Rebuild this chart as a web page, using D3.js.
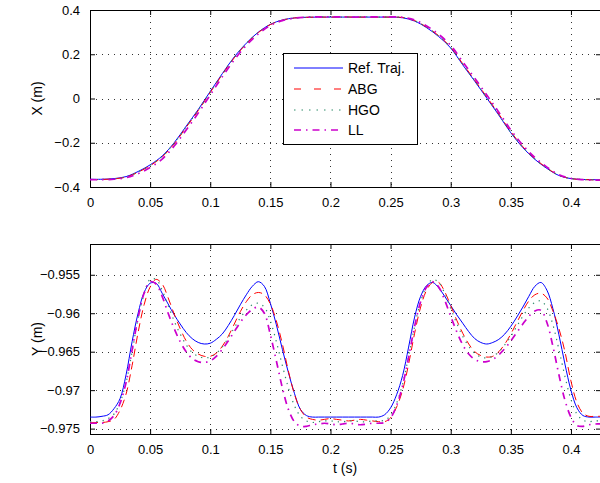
<!DOCTYPE html>
<html>
<head>
<meta charset="utf-8">
<script src="https://d3js.org/d3.v7.min.js"></script>
<style>
  body { margin: 0; background: #fff; }
  svg text { font-family: "Liberation Sans", Arial, sans-serif; }
</style>
</head>
<body>
<div id="chart"></div>
<script>

// time samples of the two panels
var tX = [0,0.01,0.02,0.03,0.04,0.05,0.06,0.07,0.08,0.09,
          0.10,0.11,0.12,0.13,0.14,0.15,0.16,0.17,0.18,0.19,
          0.20,0.21,0.22,0.23,0.24,0.25,0.26,0.27,0.28,0.29,
          0.30,0.31,0.32,0.33,0.34,0.35,0.36,0.37,0.38,0.39,
          0.40,0.41,0.42,0.425];

var refX = [-0.365,-0.365,-0.362,-0.353,-0.330,-0.300,-0.260,-0.200,-0.125,-0.050,
            0.032,0.112,0.188,0.250,0.300,0.335,0.355,0.364,0.367,0.368,
            0.368,0.368,0.368,0.368,0.368,0.368,0.365,0.350,0.320,0.280,
            0.228,0.152,0.078,0.002,-0.075,-0.155,-0.222,-0.275,-0.316,-0.348,
            -0.362,-0.366,-0.367,-0.367];
var abgX = [-0.366,-0.366,-0.363,-0.355,-0.333,-0.304,-0.264,-0.205,-0.130,-0.055,
            0.027,0.108,0.184,0.247,0.298,0.334,0.354,0.364,0.367,0.368,
            0.368,0.369,0.368,0.368,0.368,0.368,0.366,0.352,0.323,0.284,
            0.232,0.157,0.083,0.007,-0.070,-0.150,-0.218,-0.272,-0.314,-0.347,
            -0.362,-0.366,-0.368,-0.368];
var hgoX = [-0.366,-0.366,-0.363,-0.354,-0.332,-0.302,-0.262,-0.203,-0.128,-0.053,
            0.029,0.110,0.186,0.248,0.299,0.334,0.355,0.364,0.367,0.368,
            0.369,0.368,0.368,0.369,0.368,0.368,0.366,0.351,0.322,0.282,
            0.230,0.155,0.081,0.005,-0.072,-0.152,-0.220,-0.273,-0.315,-0.347,
            -0.362,-0.366,-0.367,-0.368];
var llX  = [-0.367,-0.367,-0.365,-0.358,-0.340,-0.312,-0.274,-0.215,-0.142,-0.066,
            0.016,0.098,0.175,0.240,0.292,0.330,0.352,0.363,0.367,0.369,
            0.369,0.369,0.368,0.369,0.369,0.369,0.367,0.355,0.328,0.290,
            0.240,0.166,0.092,0.016,-0.062,-0.142,-0.211,-0.266,-0.310,-0.344,
            -0.361,-0.367,-0.369,-0.369];

var tY = [0,0.005,0.01,0.015,0.02,0.025,0.03,0.035,0.04,0.045,
          0.05,0.055,0.06,0.065,0.07,0.075,0.08,0.085,0.09,0.095,
          0.10,0.105,0.11,0.115,0.12,0.125,0.13,0.135,0.14,0.145,
          0.15,0.155,0.16,0.165,0.17,0.175,0.18,0.185,0.19,0.195,
          0.20,0.205,0.21,0.215,0.22,0.225,0.23,0.235,0.24,0.245,
          0.25,0.255,0.26,0.265,0.27,0.275,0.28,0.285,0.29,0.295,
          0.30,0.305,0.31,0.315,0.32,0.325,0.33,0.335,0.34,0.345,
          0.35,0.355,0.36,0.365,0.37,0.375,0.38,0.385,0.39,0.395,
          0.40,0.405,0.41,0.415,0.42,0.425];

var refY = [-0.9735,-0.9735,-0.9734,-0.9732,-0.9724,-0.9711,-0.9680,-0.9637,-0.9600,-0.9573,
            -0.9561,-0.9561,-0.9574,-0.9588,-0.9602,-0.9614,-0.9625,-0.9633,-0.9638,-0.9640,
            -0.9639,-0.9634,-0.9627,-0.9616,-0.9603,-0.9589,-0.9576,-0.9565,-0.9559,-0.9565,
            -0.9587,-0.9615,-0.9647,-0.9677,-0.9704,-0.9725,-0.9733,-0.9735,-0.9735,-0.9735,
            -0.9735,-0.9735,-0.9735,-0.9735,-0.9735,-0.9735,-0.9735,-0.9735,-0.9735,-0.9732,
            -0.9723,-0.9706,-0.9681,-0.9644,-0.9605,-0.9578,-0.9564,-0.9560,-0.9567,-0.9578,
            -0.9590,-0.9602,-0.9613,-0.9624,-0.9633,-0.9638,-0.9640,-0.9638,-0.9634,-0.9627,
            -0.9617,-0.9605,-0.9592,-0.9578,-0.9565,-0.9560,-0.9570,-0.9594,-0.9628,-0.9666,
            -0.9700,-0.9723,-0.9733,-0.9735,-0.9735,-0.9735];
var abgY = [-0.9742,-0.9742,-0.9742,-0.9741,-0.9738,-0.9726,-0.9705,-0.9668,-0.9625,-0.9589,
            -0.9566,-0.9556,-0.9562,-0.9580,-0.9601,-0.9620,-0.9636,-0.9647,-0.9653,-0.9656,
            -0.9656,-0.9652,-0.9643,-0.9630,-0.9614,-0.9598,-0.9585,-0.9576,-0.9573,-0.9576,
            -0.9588,-0.9610,-0.9640,-0.9675,-0.9705,-0.9725,-0.9735,-0.9738,-0.9739,-0.9738,
            -0.9737,-0.9738,-0.9739,-0.9740,-0.9739,-0.9738,-0.9739,-0.9740,-0.9741,-0.9741,
            -0.9736,-0.9722,-0.9700,-0.9666,-0.9626,-0.9592,-0.9570,-0.9560,-0.9560,-0.9572,
            -0.9590,-0.9609,-0.9626,-0.9640,-0.9650,-0.9655,-0.9657,-0.9656,-0.9650,-0.9640,
            -0.9627,-0.9612,-0.9597,-0.9584,-0.9576,-0.9574,-0.9580,-0.9597,-0.9620,-0.9650,
            -0.9688,-0.9716,-0.9730,-0.9734,-0.9734,-0.9734];
var hgoY = [-0.9741,-0.9741,-0.9740,-0.9737,-0.9731,-0.9716,-0.9690,-0.9650,-0.9607,-0.9575,
            -0.9556,-0.9556,-0.9570,-0.9590,-0.9610,-0.9627,-0.9641,-0.9651,-0.9656,-0.9658,
            -0.9657,-0.9652,-0.9644,-0.9632,-0.9619,-0.9606,-0.9596,-0.9589,-0.9587,-0.9592,
            -0.9610,-0.9637,-0.9668,-0.9697,-0.9720,-0.9734,-0.9740,-0.9742,-0.9741,-0.9740,
            -0.9740,-0.9741,-0.9741,-0.9740,-0.9740,-0.9741,-0.9741,-0.9740,-0.9740,-0.9739,
            -0.9733,-0.9717,-0.9692,-0.9656,-0.9617,-0.9585,-0.9565,-0.9556,-0.9560,-0.9574,
            -0.9594,-0.9613,-0.9630,-0.9643,-0.9652,-0.9657,-0.9658,-0.9656,-0.9650,-0.9641,
            -0.9630,-0.9617,-0.9604,-0.9593,-0.9586,-0.9584,-0.9593,-0.9615,-0.9647,-0.9682,
            -0.9712,-0.9731,-0.9739,-0.9741,-0.9740,-0.9740];
var llY  = [-0.9743,-0.9743,-0.9743,-0.9740,-0.9733,-0.9717,-0.9690,-0.9648,-0.9606,-0.9574,
            -0.9559,-0.9562,-0.9578,-0.9600,-0.9620,-0.9637,-0.9650,-0.9659,-0.9663,-0.9664,
            -0.9662,-0.9656,-0.9647,-0.9636,-0.9624,-0.9612,-0.9602,-0.9595,-0.9592,-0.9600,
            -0.9628,-0.9662,-0.9697,-0.9725,-0.9741,-0.9747,-0.9747,-0.9745,-0.9744,-0.9743,
            -0.9744,-0.9745,-0.9744,-0.9743,-0.9744,-0.9745,-0.9744,-0.9743,-0.9743,-0.9742,
            -0.9736,-0.9720,-0.9694,-0.9657,-0.9617,-0.9585,-0.9566,-0.9559,-0.9566,-0.9583,
            -0.9604,-0.9624,-0.9641,-0.9653,-0.9660,-0.9663,-0.9663,-0.9660,-0.9654,-0.9646,
            -0.9636,-0.9625,-0.9614,-0.9604,-0.9597,-0.9596,-0.9612,-0.9643,-0.9680,-0.9713,
            -0.9735,-0.9746,-0.9747,-0.9745,-0.9744,-0.9744];

var xTicks = [0,0.05,0.1,0.15,0.2,0.25,0.3,0.35,0.4];
var topTicks = [-0.4,-0.2,0,0.2,0.4];
var botTicks = [-0.975,-0.97,-0.965,-0.96,-0.955];

var names = ["Ref. Traj.","ABG","HGO","LL"];

var styles = [
    {color: "#0000ff", dash: null, legDash: null, width: 1},
    {color: "#ff0000", dash: "8,5", legDash: "7,13", width: 1},
    {color: "#2e8b6a", dash: "1.3,5", legDash: "1.5,6", width: 1.2},
    {color: "#cc00cc", dash: "7,5,1.5,5", legDash: "7,5,1.5,5", width: 1.7}
];

var W = 600, H = 483;
var left = 90, right = 601;

var svg = d3.select("#chart").append("svg")
    .attr("width", W)
    .attr("height", H);

function panel(id, top, bottom, yDomain, yTicks, fmt, t, series, ylabel) {
    var x = d3.scaleLinear().domain([0, 0.425]).range([left, right]);
    var y = d3.scaleLinear().domain(yDomain).range([bottom, top]);

    var g = svg.append("g");

    g.append("clipPath").attr("id", id)
        .append("rect")
        .attr("x", left).attr("y", top)
        .attr("width", right - left).attr("height", bottom - top);

    // dotted grid
    g.selectAll(".vg").data(xTicks).enter().append("line")
        .attr("x1", function(d) { return Math.round(x(d)) + 0.5; })
        .attr("x2", function(d) { return Math.round(x(d)) + 0.5; })
        .attr("y1", top).attr("y2", bottom)
        .attr("stroke", "#333").attr("stroke-width", 1)
        .attr("stroke-dasharray", "1,5");
    g.selectAll(".hg").data(yTicks).enter().append("line")
        .attr("y1", function(d) { return Math.round(y(d)) + 0.5; })
        .attr("y2", function(d) { return Math.round(y(d)) + 0.5; })
        .attr("x1", left).attr("x2", right)
        .attr("stroke", "#333").attr("stroke-width", 1)
        .attr("stroke-dasharray", "1,5");

    // axes, ticks pointing inward like matlab
    var xb = g.append("g")
        .attr("transform", "translate(0," + bottom + ")")
        .call(d3.axisBottom(x).tickValues(xTicks).tickSizeInner(-5).tickSizeOuter(0)
              .tickPadding(11).tickFormat(d3.format("")));
    var xt = g.append("g")
        .attr("transform", "translate(0," + top + ")")
        .call(d3.axisTop(x).tickValues(xTicks).tickSizeInner(-5).tickSizeOuter(0)
              .tickFormat(""));
    var yl = g.append("g")
        .attr("transform", "translate(" + left + ",0)")
        .call(d3.axisLeft(y).tickValues(yTicks).tickSizeInner(-5).tickSizeOuter(0)
              .tickPadding(10).tickFormat(fmt));
    var yr = g.append("g")
        .attr("transform", "translate(" + right + ",0)")
        .call(d3.axisRight(y).tickValues(yTicks).tickSizeInner(-5).tickSizeOuter(0)
              .tickFormat(""));

    [xb, xt, yl, yr].forEach(function(a) {
        a.select(".domain").remove();
        a.selectAll("text").attr("font-size", "13px").attr("fill", "#000")
            .style("font-family", "'Liberation Sans', Arial, sans-serif");
        a.selectAll("line").attr("stroke", "#000");
    });

    g.append("rect")
        .attr("x", left + 0.5).attr("y", top + 0.5)
        .attr("width", right - left).attr("height", bottom - top)
        .attr("fill", "none").attr("stroke", "#000").attr("stroke-width", 1);

    var line = d3.line()
        .x(function(d) { return x(d[0]); })
        .y(function(d) { return y(d[1]); })
        .curve(d3.curveCatmullRom);

    series.forEach(function(s, i) {
        g.append("path")
            .datum(t.map(function(tt, j) { return [tt, s[j]]; }))
            .attr("clip-path", "url(#" + id + ")")
            .attr("d", line)
            .attr("fill", "none")
            .attr("stroke", styles[i].color)
            .attr("stroke-width", styles[i].width)
            .attr("stroke-dasharray", styles[i].dash);
    });

    g.append("text")
        .attr("transform", "translate(42," + ((top + bottom) / 2) + ") rotate(-90)")
        .attr("text-anchor", "middle")
        .attr("font-size", "14px")
        .text(ylabel);

    return {x: x, y: y};
}

var p1 = panel("clipTop", 10, 187, [-0.4, 0.4], topTicks,
    function(d) { return d3.format("")(d); }, tX, [refX, abgX, hgoX, llX], "X (m)");
var p2 = panel("clipBot", 244, 434, [-0.9757, -0.9510], botTicks,
    d3.format(".3~f"), tY, [refY, abgY, hgoY, llY], "Y (m)");

svg.append("text")
    .attr("x", 345).attr("y", 473)
    .attr("text-anchor", "middle")
    .attr("font-size", "14px")
    .text("t (s)");

// legend
var leg = svg.append("g");
leg.append("rect")
    .attr("x", 283.5).attr("y", 53.5)
    .attr("width", 134).attr("height", 91)
    .attr("fill", "#fff").attr("stroke", "#000").attr("stroke-width", 1);

var rowY = [68, 89, 110, 130];
names.forEach(function(n, i) {
    leg.append("line")
        .attr("x1", 294).attr("x2", 343)
        .attr("y1", rowY[i]).attr("y2", rowY[i])
        .attr("stroke", styles[i].color)
        .attr("stroke-width", styles[i].width)
        .attr("stroke-dasharray", styles[i].legDash);
    leg.append("text")
        .attr("x", 348).attr("y", rowY[i] + 5)
        .attr("font-size", "14px")
        .text(n);
});

</script>
</body>
</html>
